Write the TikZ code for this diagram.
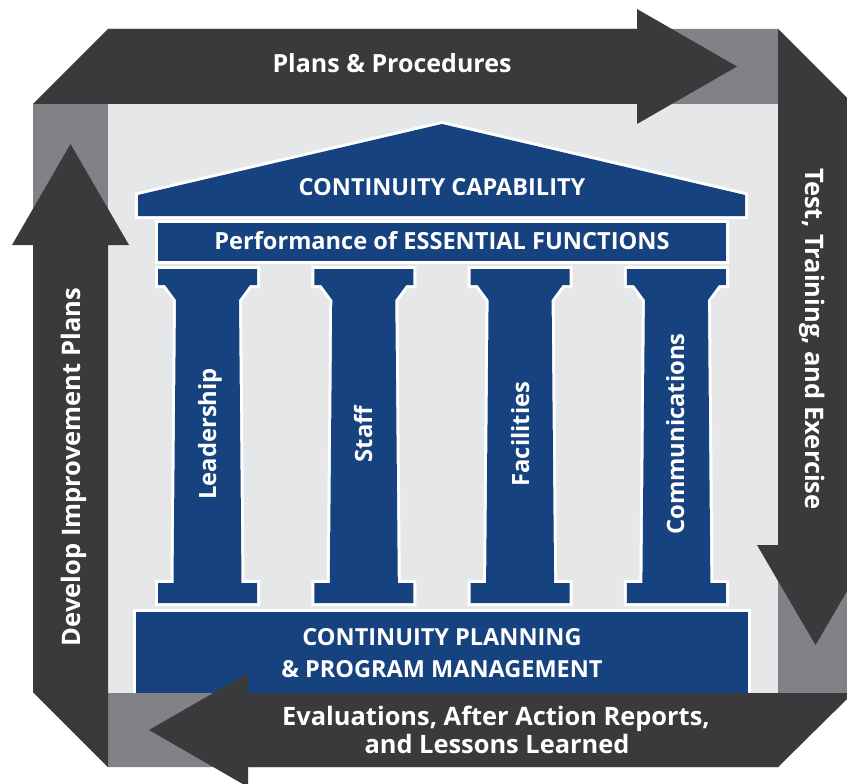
\documentclass[tikz,border=0pt]{standalone}
\usepackage{fontspec}
\setmainfont{Open Sans}
\definecolor{darkarrow}{HTML}{3A3A3C}
\definecolor{framegray}{HTML}{808285}
\definecolor{panelgray}{HTML}{E6E7E8}
\definecolor{tblue}{HTML}{16437F}
\begin{document}
\begin{tikzpicture}[x=1pt,y=-1pt,
  tpl/.style={preaction={draw=white,line width=6pt,line join=miter}, fill=tblue},
  darkshape/.style={fill=darkarrow},
  lbl/.style={text=white,inner sep=0pt,anchor=base},
  outer/.style={lbl,font=\bfseries\fontsize{25}{30}\selectfont},
  evalf/.style={lbl,font=\bfseries\fontsize{25.4}{30}\selectfont},
  side/.style={lbl,font=\bfseries\fontsize{25.5}{30}\selectfont},
  roof/.style={lbl,font=\bfseries\fontsize{23.5}{28}\selectfont},
  pill/.style={lbl,font=\bfseries\fontsize{23.8}{28}\selectfont,rotate=90}
]
\useasboundingbox (0,0) rectangle (847,784);
\clip (0,0) rectangle (847,784);
\fill[white] (0,0) rectangle (847,784);
% gray frame
\fill[framegray] (108,29) -- (778,29) -- (853,104) -- (853,693) -- (778,767) -- (108,767) -- (33,692) -- (33,104) -- cycle;
% light panel
\fill[panelgray] (108,104) rectangle (778,693);
% temple
\path[tpl] (138,216) -- (138,195) -- (442,124) -- (745,195) -- (745,216) -- cycle;
\path[tpl] (158,223) rectangle (726,261);
\foreach \cx in {207.5,363.8,520.1,676.4}{
  \begin{scope}[xshift=\cx pt]
  \path[tpl] (-49.5,269) -- (49.5,269) -- (49.5,285) -- (42.5,285) -- (31.5,300) -- (34,583) -- (49.5,583) -- (49.5,603) -- (-49.5,603) -- (-49.5,583) -- (-34,583) -- (-31.5,300) -- (-42.5,285) -- (-49.5,285) -- cycle;
  \end{scope}
}
\path[tpl] (136,612) rectangle (748,700);
\fill[framegray] (108,693) rectangle (778,767);
% arrows
\path[darkshape] (33,104) -- (108,29) -- (637,29) -- (637,9) -- (737,66.5) -- (637,124) -- (637,104) -- cycle;
\path[darkshape] (778,29) -- (853,104) -- (853,545) -- (874,545) -- (815.5,645) -- (757,545) -- (778,545) -- cycle;
\path[darkshape] (853,693) -- (778,767) -- (248,767) -- (248,787) -- (149,730) -- (248,673) -- (248,693) -- cycle;
\path[darkshape] (108,767) -- (33,692) -- (33,245) -- (12,245) -- (70.5,144) -- (129,245) -- (108,245) -- cycle;
% texts
\node[outer] (plans) at (392,73) {Plans \& Procedures};
\node[side,rotate=-90] (test) at (805,339) {Test, Training, and Exercise};
\node[side,rotate=90] (develop) at (80,467) {Develop Improvement Plans};
\node[evalf] (eval1) at (496,725) {Evaluations, After Action Reports,};
\node[evalf] (eval2) at (497,753) {and Lessons Learned};
\node[roof] (capab) at (442,195) {CONTINUITY CAPABILITY};
\node[roof,font=\bfseries\fontsize{23.6}{26}\selectfont] (perf) at (442,249) {Performance of ESSENTIAL FUNCTIONS};
\node[pill] (lead) at (216,434) {Leadership};
\node[pill] (staff) at (372,434) {Staff};
\node[pill] (fac) at (529,434) {Facilities};
\node[pill] (comm) at (684,434) {Communications};
\node[roof] (found1) at (442,645) {CONTINUITY PLANNING};
\node[roof] (found2) at (442,677) {\& PROGRAM MANAGEMENT};
\end{tikzpicture}
\end{document}
